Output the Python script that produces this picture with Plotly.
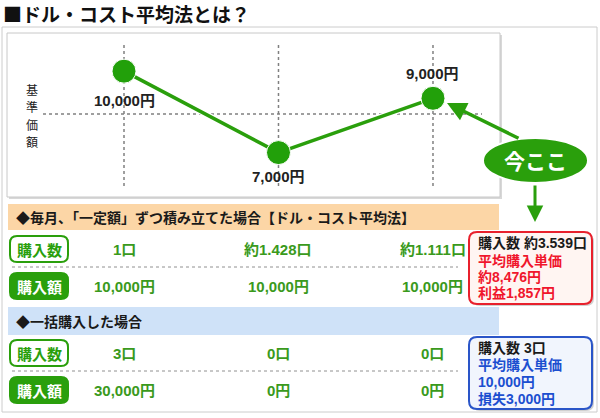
import plotly.graph_objects as go

# ---- data ----
months = [1, 2, 3]
prices = [10000, 7000, 9000]
price_labels = ["10,000円", "7,000円", "9,000円"]
dca_units = ["1口", "約1.428口", "約1.111口"]
dca_amounts = ["10,000円", "10,000円", "10,000円"]
lump_units = ["3口", "0口", "0口"]
lump_amounts = ["30,000円", "0円", "0円"]
dca_summary = ["購入数 約3.539口", "平均購入単価", "約8,476円", "利益1,857円"]
lump_summary = ["購入数 3口", "平均購入単価", "10,000円", "損失3,000円"]
axis_label = "基準価額"

W, H = 600, 418
GREEN = "#2a9f0c"
TXTGREEN = "#3a9a1c"
FONT = "Liberation Sans, Noto Sans CJK JP"
JP = "Noto Sans CJK JP, Liberation Sans"


def X(p):
    return p / W


def Y(p):
    return 1 - p / H


def rrect(x0, y0, x1, y1, r):
    rx, ry = r / W, r / H
    a, b, c, d = X(x0), Y(y0), X(x1), Y(y1)
    return (f"M {a+rx},{b} L {c-rx},{b} Q {c},{b} {c},{b-ry} L {c},{d+ry} "
            f"Q {c},{d} {c-rx},{d} L {a+rx},{d} Q {a},{d} {a},{d+ry} "
            f"L {a},{b-ry} Q {a},{b} {a+rx},{b} Z")


fig = go.Figure()

shapes = []
ann = []

# outer frame
shapes.append(dict(type="rect", xref="paper", yref="paper", x0=X(2), x1=X(597), y0=Y(412), y1=Y(27),
                   line=dict(color="#cccccc", width=1), fillcolor="white", layer="below"))
# chart panel shadow + panel
shapes.append(dict(type="rect", xref="paper", yref="paper", x0=X(9), x1=X(502), y0=Y(199), y1=Y(35),
                   line=dict(width=0), fillcolor="#d8d8d8", layer="below"))
shapes.append(dict(type="rect", xref="paper", yref="paper", x0=X(7), x1=X(500), y0=Y(197), y1=Y(33),
                   line=dict(color="#c8c8c8", width=1), fillcolor="white", layer="below"))
# grid dotted lines
for m in months:
    shapes.append(dict(type="line", xref="x", yref="paper", x0=m, x1=m, y0=Y(45), y1=Y(187),
                       line=dict(color="#808080", width=1.5, dash="dot"), layer="below"))
shapes.append(dict(type="line", xref="paper", yref="paper", x0=X(43), x1=X(482), y0=Y(114), y1=Y(114),
                   line=dict(color="#808080", width=1.5, dash="dot"), layer="below"))

# header bars
shapes.append(dict(type="rect", xref="paper", yref="paper", x0=X(8), x1=X(499), y0=Y(230), y1=Y(204),
                   line=dict(width=0), fillcolor="#fcd6a6", layer="below"))
shapes.append(dict(type="rect", xref="paper", yref="paper", x0=X(8), x1=X(499), y0=Y(335), y1=Y(307),
                   line=dict(width=0), fillcolor="#cfe2f8", layer="below"))
ann.append(dict(xref="paper", yref="paper", x=X(14), y=Y(217), xanchor="left", yanchor="middle",
                text="<b>◆毎月、「一定額」ずつ積み立てた場合【ドル・コスト平均法】</b>", showarrow=False,
                font=dict(family=JP, size=14, color="#1a1a1a")))
ann.append(dict(xref="paper", yref="paper", x=X(14), y=Y(321), xanchor="left", yanchor="middle",
                text="<b>◆一括購入した場合</b>", showarrow=False,
                font=dict(family=JP, size=14, color="#1a1a1a")))

# separators
for yy in (267, 371):
    shapes.append(dict(type="line", xref="paper", yref="paper", x0=X(12), x1=X(458), y0=Y(yy), y1=Y(yy),
                       line=dict(color="#909090", width=1, dash="dot"), layer="below"))

# badges and rows
rows = [(249, "購入数", False, dca_units), (286, "購入額", True, dca_amounts),
        (353, "購入数", False, lump_units), (390, "購入額", True, lump_amounts)]
for yc, label, filled, vals in rows:
    shapes.append(dict(type="path", xref="paper", yref="paper", path=rrect(10, yc - 13, 68, yc + 13, 7),
                       line=dict(color=GREEN, width=2), fillcolor=GREEN if filled else "white", layer="below"))
    ann.append(dict(xref="paper", yref="paper", x=X(39), y=Y(yc), xanchor="center", yanchor="middle",
                    text=f"<b>{label}</b>", showarrow=False,
                    font=dict(family=JP, size=15, color="white" if filled else GREEN)))
    for m, v in zip(months, vals):
        ann.append(dict(xref="x", yref="paper", x=m, y=Y(yc), xanchor="center", yanchor="middle",
                        text=f"<b>{v}</b>", showarrow=False,
                        font=dict(family=FONT, size=15, color=TXTGREEN)))

# summary boxes
boxes = [(232, 304, "#e8202c", "#fff5f2", "#f0162c", dca_summary, [243, 261, 277, 293]),
         (337, 409, "#2a55c8", "#f1f5fd", "#1c4fd0", lump_summary, [348, 365, 382, 399])]
for y0, y1, bc, fc, tc, lines, ys in boxes:
    shapes.append(dict(type="path", xref="paper", yref="paper", path=rrect(472, y0 + 2, 594, y1 + 2, 8),
                       line=dict(width=0), fillcolor="#d0d0d0", layer="below"))
    shapes.append(dict(type="path", xref="paper", yref="paper", path=rrect(469, y0, 592, y1, 8),
                       line=dict(color=bc, width=2), fillcolor=fc, layer="below"))
    for i, (t, yy) in enumerate(zip(lines, ys)):
        ann.append(dict(xref="paper", yref="paper", x=X(476), y=Y(yy), xanchor="left", yanchor="middle",
                        text=f"<b>{t}</b>", showarrow=False,
                        font=dict(family=FONT, size=14, color="#1a1a1a" if i == 0 else tc)))

# title
ann.append(dict(xref="paper", yref="paper", x=X(1), y=Y(14), xanchor="left", yanchor="middle",
                text="<b>■ドル・コスト平均法とは？</b>", showarrow=False,
                font=dict(family=JP, size=19, color="#111111")))
# y label (vertical, one character per annotation)
for i, ch in enumerate(axis_label):
    ann.append(dict(xref="paper", yref="paper", x=X(32), y=Y(89 + 17.5 * i), xanchor="center",
                    yanchor="middle", text=ch, showarrow=False,
                    font=dict(family=JP, size=12, color="#222222")))

# price labels
shifts = [-29, -24, 25]
for m, p, t, s in zip(months, prices, price_labels, shifts):
    ann.append(dict(xref="x", yref="y", x=m, y=p, yshift=s, xanchor="center", yanchor="middle",
                    text=f"<b>{t}</b>", showarrow=False,
                    font=dict(family=FONT, size=15, color="#222222")))

# arrows
ann.append(dict(xref="paper", yref="paper", x=X(447), y=Y(103), ax=73, ay=36, axref="pixel", ayref="pixel",
                text="", showarrow=True, arrowhead=2, arrowsize=1.1, arrowwidth=3.5, arrowcolor=GREEN))
ann.append(dict(xref="paper", yref="paper", x=X(535), y=Y(222), ax=0, ay=-38, axref="pixel", ayref="pixel",
                text="", showarrow=True, arrowhead=2, arrowsize=1.1, arrowwidth=3, arrowcolor=GREEN))
# bubble
shapes.append(dict(type="circle", xref="paper", yref="paper", x0=X(483), x1=X(588), y0=Y(183), y1=Y(138),
                   line=dict(color="white", width=2), fillcolor=GREEN, layer="above"))

fig.add_trace(go.Scatter(x=months, y=prices, mode="lines", line=dict(color="white", width=6),
                         hoverinfo="skip", showlegend=False))
fig.add_trace(go.Scatter(x=months, y=prices, mode="lines+markers",
                         line=dict(color=GREEN, width=3.5),
                         marker=dict(size=24, color="#22a00a", line=dict(color="white", width=1)),
                         showlegend=False))

fig.update_layout(
    width=W, height=H, margin=dict(l=0, r=0, t=0, b=0),
    paper_bgcolor="white", plot_bgcolor="rgba(0,0,0,0)",
    xaxis=dict(range=[0.1974, 4.081], visible=False, fixedrange=True),
    yaxis=dict(range=[-2780, 12622], visible=False, fixedrange=True),
    shapes=shapes, annotations=ann,
)
fig.add_annotation(xref="paper", yref="paper", x=X(535), y=Y(160), xanchor="center", yanchor="middle",
                   text="<b>今ここ</b>", showarrow=False, font=dict(family=JP, size=21, color="white"))

fig.write_html("out.html", config={"displayModeBar": False},
               post_script="document.body.style.margin='0';document.body.style.overflow='hidden';")
